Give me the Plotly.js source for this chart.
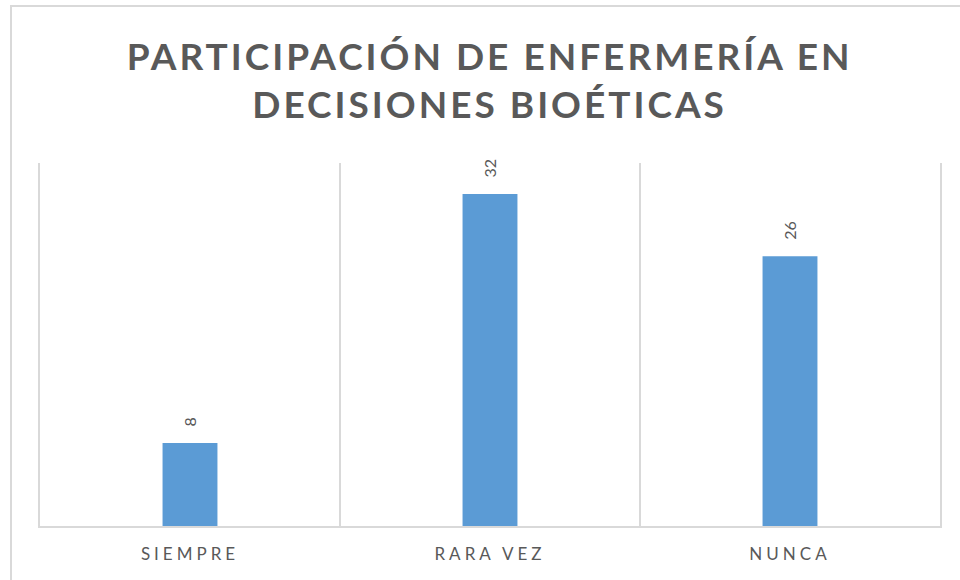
<!DOCTYPE html>
<html>
<head>
<meta charset="utf-8">
<script src="https://cdn.plot.ly/plotly-3.0.1.min.js"></script>
<style>
  body { margin: 0; background: #fff; }
  #frame { position: absolute; left: 10px; top: 5px; width: 1000px; height: 1000px; border: 2px solid #d9d9d9; }
  #chart { position: absolute; left: 0; top: 0; width: 960px; height: 580px; }
</style>
</head>
<body>
<div id="frame"></div>
<div id="chart"></div>
<script>
const categories = ['SIEMPRE', 'RARA VEZ', 'NUNCA']
const counts = [8, 32, 26]

const data = [{
  x: categories,
  y: counts,
  type: 'bar',
  width: 0.183,
  marker: { color: '#5b9bd5' },
  hoverinfo: 'none'
}]

// data labels sit a little above each bar, rotated
const labels = categories.map((c, i) => ({
  x: c,
  y: counts[i],
  text: String(counts[i]),
  textangle: -90,
  showarrow: false,
  yanchor: 'bottom',
  yshift: 14,
  font: { family: 'Lato, sans-serif', size: 16, color: '#595959' }
}))

const layout = {
  width: 960,
  height: 580,
  margin: { l: 40, r: 20, t: 163, b: 54 },
  paper_bgcolor: 'rgba(0,0,0,0)',
  plot_bgcolor: 'rgba(0,0,0,0)',
  title: {
    text: 'PARTICIPACIÓN DE ENFERMERÍA EN<br>DECISIONES BIOÉTICAS',
    font: { family: 'Lato, sans-serif', size: 37, color: '#595959', weight: 'bold' },
    x: 0.51,
    xanchor: 'center',
    y: 0.88,
    yanchor: 'middle'
  },
  showlegend: false,
  annotations: labels,
  xaxis: {
    tickson: 'boundaries',
    showgrid: true,
    gridcolor: '#d9d9d9',
    gridwidth: 2,
    showline: true,
    linecolor: '#d9d9d9',
    linewidth: 2,
    ticks: '',
    ticklabelstandoff: 12,
    tickfont: { family: 'Lato, sans-serif', size: 17, color: '#595959' }
  },
  yaxis: {
    range: [0, 35],
    showgrid: false,
    zeroline: false,
    showline: true,
    mirror: true,
    linecolor: '#d9d9d9',
    linewidth: 2,
    showticklabels: false,
    ticks: ''
  }
}

Plotly.newPlot('chart', data, layout, { displayModeBar: false, staticPlot: true }).then(() => {
  document.querySelectorAll('.gtitle').forEach(t => t.style.letterSpacing = '3px')
  document.querySelectorAll('.xtick text').forEach(t => t.style.letterSpacing = '4px')
})
</script>
</body>
</html>
